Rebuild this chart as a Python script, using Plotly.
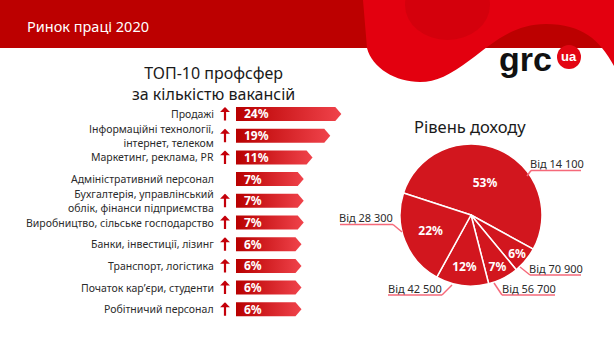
import plotly.graph_objects as go

# ---------------- data ----------------
sectors = [
    "Продажі",
    "Інформаційні технології,<br>інтернет, телеком",
    "Маркетинг, реклама, PR",
    "Адміністративний персонал",
    "Бухгалтерія, управлінський<br>облік, фінанси підприємства",
    "Виробництво, сільське господарство",
    "Банки, інвестиції, лізинг",
    "Транспорт, логістика",
    "Початок кар’єри, студенти",
    "Робітничий персонал",
]
sector_share = [24, 19, 11, 7, 7, 7, 6, 6, 6, 6]
sector_trend_up = [True, True, True, False, True, True, True, True, True, True]

income_labels = ["Від 14 100", "Від 70 900", "Від 56 700", "Від 42 500", "Від 28 300"]
income_share = [53, 6, 7, 12, 22]

header_title = "Ринок праці 2020"
left_title = "ТОП-10 профсфер<br>за кількістю вакансій"
right_title = "Рівень доходу"

# ---------------- style / layout constants ----------------
W, H = 614, 350
FONT = "Noto Sans"
RED_DARK = "#BC0000"
RED = "#E3000F"
PINK = "#F5697A"
TXT = "#2b2b2b"

# bar axis geometry (pixels)
bar_left_px, bar_right_px = 236, 352
px_per_unit = 2.213
bar_base = -23.6
bar_xmax = bar_base + (bar_right_px - bar_left_px) / px_per_unit
row0_px, row_step_px = 114, 21.7
n = len(sectors)
y_top_px = row0_px - row_step_px / 2
y_bot_px = row0_px + row_step_px * (n - 0.5)
half_h = 7 / row_step_px
tip = 6 / px_per_unit

fig = go.Figure()

# overlay pixel axis for decorations
fig.add_trace(go.Scatter(x=[None], y=[None], xaxis="x3", yaxis="y3",
                         showlegend=False, hoverinfo="skip"))

# bars as arrow-tipped gradient polygons
for i, (lab, v) in enumerate(zip(sectors, sector_share)):
    xs = [bar_base, v - tip, v, v - tip, bar_base, bar_base]
    ys = [i - half_h, i - half_h, i, i + half_h, i + half_h, i - half_h]
    fig.add_trace(go.Scatter(
        x=xs, y=ys, mode="lines", fill="toself",
        line=dict(width=0, color="rgba(0,0,0,0)"),
        fillgradient=dict(type="horizontal",
                          colorscale=[[0, "#B80000"], [1, "#F0434B"]]),
        showlegend=False, hoverinfo="skip"))

annotations = []
for i, (lab, v, up) in enumerate(zip(sectors, sector_share, sector_trend_up)):
    annotations.append(dict(
        x=bar_left_px - 20, y=i, xref="x3", yref="y",
        text=lab, showarrow=False, xanchor="right", align="right",
        font=dict(family=FONT, size=10.5, color=TXT)))
    annotations.append(dict(
        x=bar_base + 6 / px_per_unit, y=i, xref="x", yref="y",
        text=f"<b>{v}%</b>", showarrow=False, xanchor="left",
        font=dict(family=FONT, size=12, color="white")))
    if up:
        annotations.append(dict(
            x=bar_left_px - 11, y=i - 7 / row_step_px, xref="x3", yref="y",
            text="", showarrow=True, ax=0, ay=15, axref="pixel", ayref="pixel",
            arrowhead=1, arrowsize=0.75, arrowwidth=2.2, arrowcolor="#C4000A",
            standoff=0, startstandoff=0))

# pie
pie_cx, pie_cy, pie_r = 471, 215, 71
fig.add_trace(go.Pie(
    labels=income_labels, values=income_share, sort=False,
    direction="clockwise", rotation=-72,
    domain=dict(x=[(pie_cx - pie_r) / W, (pie_cx + pie_r) / W],
                y=[1 - (pie_cy + pie_r) / H, 1 - (pie_cy - pie_r) / H]),
    marker=dict(colors=["#D2161E"] * len(income_share),
                line=dict(color="white", width=1.5)),
    texttemplate="<b>%{value}%</b>", textposition="inside",
    insidetextorientation="horizontal",
    textfont=dict(family=FONT, size=12, color="white"),
    showlegend=False, hoverinfo="skip"))

# outside pie labels: (text x, text y, anchor, underline x0, x1, y, leader end x, y)
label_pos = {
    "Від 14 100": (557, 163, "center", 531, 581, 170.5, 527, 176),
    "Від 70 900": (556, 268, "center", 530, 581, 275, 520, 267),
    "Від 56 700": (529, 288, "center", 502, 555, 295, 494, 283),
    "Від 42 500": (415, 288, "center", 388, 442, 295, 452, 285),
    "Від 28 300": (366, 217, "center", 340, 393, 224.5, 402, 232),
}
shapes = []
for lab in income_labels:
    tx, ty, anc, u0, u1, uy, lx, ly = label_pos[lab]
    annotations.append(dict(x=tx, y=ty, xref="x3", yref="y3", text=lab,
                            showarrow=False, xanchor=anc,
                            font=dict(family=FONT, size=11, color=TXT)))
    shapes.append(dict(type="line", xref="x3", yref="y3", x0=u0, x1=u1,
                       y0=uy, y1=uy, line=dict(color=PINK, width=1.5)))
    near = u1 if abs(lx - u1) < abs(lx - u0) else u0
    shapes.append(dict(type="line", xref="x3", yref="y3", x0=near, x1=lx,
                       y0=uy, y1=ly, line=dict(color=PINK, width=1.5)))

# header
shapes.insert(0, dict(type="rect", xref="x3", yref="y3", x0=0, x1=W, y0=0, y1=48,
                      fillcolor=RED_DARK, line=dict(width=0), layer="below"))
shapes.insert(1, dict(type="path", xref="x3", yref="y3",
                      path="M 363,0 L 614,0 L 614,66 C 600,40 582,24 546,24 "
                           "C 512,24 492,44 470,60 C 450,75 436,82 420,82 "
                           "C 396,82 372,68 367,48 Z",
                      fillcolor=RED, line=dict(width=0), layer="below"))
shapes.insert(2, dict(type="circle", xref="x3", yref="y3", x0=405, x1=490, y0=-30, y1=40,
                      fillcolor="#B80008", opacity=0.35, line=dict(width=0), layer="below"))
# logo circle
shapes.append(dict(type="circle", xref="x3", yref="y3", x0=557, x1=581, y0=45, y1=69,
                   fillcolor="#E30613", line=dict(width=0)))

annotations += [
    dict(x=25, y=26, xref="x3", yref="y3", text=header_title, showarrow=False,
         xanchor="left", font=dict(family=FONT, size=14.5, color="white")),
    dict(x=213, y=83, xref="x3", yref="y3", text=left_title, showarrow=False,
         xanchor="center", align="center",
         font=dict(family=FONT, size=16, color="#1a1a1a")),
    dict(x=470, y=126, xref="x3", yref="y3", text=right_title, showarrow=False,
         xanchor="center", font=dict(family=FONT, size=16.5, color="#1a1a1a")),
    dict(x=554, y=59, xref="x3", yref="y3", text="<b>grc</b>", showarrow=False,
         xanchor="right", font=dict(family="Liberation Sans", size=34, color="#111111")),
    dict(x=569, y=56, xref="x3", yref="y3", text="<b>ua</b>", showarrow=False,
         xanchor="center", font=dict(family="Liberation Sans", size=13, color="white")),
]

fig.update_layout(
    width=W, height=H, margin=dict(l=0, r=0, t=0, b=0),
    paper_bgcolor="white", plot_bgcolor="rgba(0,0,0,0)",
    xaxis=dict(domain=[bar_left_px / W, bar_right_px / W], range=[bar_base, bar_xmax],
               visible=False, fixedrange=True),
    yaxis=dict(domain=[1 - y_bot_px / H, 1 - y_top_px / H], range=[n - 0.5, -0.5],
               visible=False, fixedrange=True),
    xaxis3=dict(domain=[0, 1], range=[0, W], visible=False, anchor="y3", fixedrange=True),
    yaxis3=dict(domain=[0, 1], range=[H, 0], visible=False, anchor="x3", fixedrange=True),
    shapes=shapes, annotations=annotations,
    uniformtext=dict(minsize=12, mode="show"),
)

fig.write_html("out.html")
